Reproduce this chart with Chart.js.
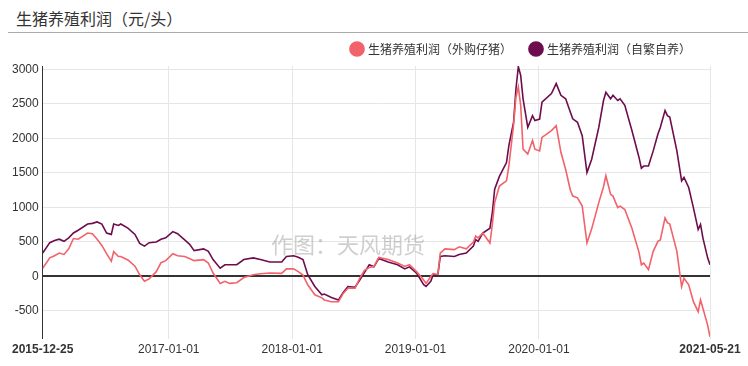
<!DOCTYPE html>
<html>
<head>
<meta charset="utf-8">
<script src="https://cdn.jsdelivr.net/npm/chart.js@4.4.1/dist/chart.umd.min.js"></script>
<style>
  body { margin: 0; background: #fff; font-family: Arial, "Liberation Sans", "Noto Sans CJK SC", sans-serif; }
  #title { position: absolute; left: 8px; right: 0; top: 0; height: 33px; border-bottom: 1px solid #aaa;
           font: 16px "Noto Sans CJK SC", sans-serif; color: #333; line-height: 36px; padding-left: 8px; box-sizing: border-box; }
  #wrap { position: absolute; left: 0; top: 34px; width: 748px; height: 332px; }
  #mark { position: absolute; left: 271px; top: 227px; font: 22px "Noto Sans CJK SC", sans-serif; color: rgba(160,160,160,0.5); pointer-events: none; }
</style>
</head>
<body>
<div id="title">生猪养殖利润（元/头）</div>
<div id="wrap"><canvas id="c"></canvas></div>
<div id="mark">作图：天风期货</div>
<script>
// weekly readings (Fridays), 元/头
const dates = [
  '2015-12-25','2016-01-15','2016-01-29','2016-02-12','2016-02-26','2016-03-11','2016-03-25','2016-04-08','2016-05-06','2016-05-20',
  '2016-06-03','2016-06-17','2016-07-01','2016-07-15','2016-07-22','2016-08-05','2016-08-12','2016-09-02','2016-09-23','2016-10-07',
  '2016-10-21','2016-11-04','2016-11-25','2016-12-09','2016-12-23','2017-01-13','2017-01-27','2017-02-17','2017-03-03','2017-03-17',
  '2017-04-14','2017-04-28','2017-05-12','2017-06-02','2017-06-16','2017-06-30','2017-07-21','2017-08-11','2017-09-08','2017-09-29',
  '2017-10-27','2017-12-01','2017-12-15','2018-01-05','2018-01-19','2018-02-02','2018-02-16','2018-03-09','2018-03-30','2018-04-06',
  '2018-04-27','2018-05-18','2018-06-01','2018-06-15','2018-07-06','2018-07-20','2018-08-03','2018-08-17','2018-08-31','2018-09-14',
  '2018-10-12','2018-11-09','2018-11-30','2018-12-14','2019-01-04','2019-01-25','2019-02-01','2019-02-15','2019-02-22','2019-03-08',
  '2019-03-15','2019-03-29','2019-04-26','2019-05-10','2019-05-31','2019-06-21','2019-06-28','2019-07-05','2019-07-19','2019-08-09',
  '2019-08-16','2019-08-23','2019-09-06','2019-09-27','2019-10-04','2019-10-18','2019-10-25','2019-11-01','2019-11-08','2019-11-15',
  '2019-11-29','2019-12-13','2019-12-20','2020-01-03','2020-01-10','2020-02-07','2020-02-21','2020-03-06','2020-03-20','2020-04-03',
  '2020-04-10','2020-04-24','2020-05-08','2020-05-22','2020-06-05','2020-06-26','2020-07-10','2020-07-17','2020-07-31','2020-08-07',
  '2020-08-21','2020-08-28','2020-09-11','2020-10-02','2020-10-23','2020-10-30','2020-11-06','2020-11-20','2020-12-04','2020-12-18',
  '2020-12-25','2021-01-08','2021-01-15','2021-01-22','2021-02-12','2021-02-26','2021-03-05','2021-03-19','2021-04-02','2021-04-16',
  '2021-04-23','2021-04-30','2021-05-14','2021-05-21'
];
const profitBought = [ // 外购仔猪
  120,270,300,340,320,400,550,540,630,620,
  540,450,330,220,360,290,290,240,150,25,
  -70,-35,70,200,230,330,300,290,260,230,
  245,195,50,-100,-70,-100,-90,-15,25,40,
  50,45,110,110,70,20,-120,-265,-310,-340,
  -365,-365,-245,-170,-170,-25,90,130,145,275,
  245,195,145,170,70,-50,-100,0,40,30,
  340,400,390,430,400,500,585,560,630,485,
  750,1070,1310,1385,1600,2200,2600,2745,2480,1845,
  1775,1970,1845,1820,2015,2115,2185,1800,1550,1250,
  1165,1140,1020,485,690,1070,1300,1460,1190,1165,
  1000,1020,970,700,350,170,195,100,365,510,
  530,850,780,760,365,-145,-25,-120,-365,-510,
  -340,-460,-705,-875
];
const profitSelf = [ // 自繁自养
  340,490,520,540,510,560,630,670,760,770,
  790,760,630,610,760,740,760,700,610,480,
  440,490,500,540,560,650,620,530,470,375,
  400,365,245,120,170,170,170,245,270,245,
  210,210,290,300,280,245,25,-145,-265,-255,
  -305,-340,-230,-145,-155,-50,60,170,140,260,
  210,170,110,140,50,-120,-145,-70,25,25,
  290,300,290,320,340,440,535,510,630,700,
  920,1265,1450,1650,1895,2235,2720,3040,2915,2575,
  2160,2330,2260,2280,2525,2650,2795,2625,2575,2380,
  2285,2235,2040,1505,1700,2160,2550,2670,2575,2625,
  2550,2575,2480,2115,1725,1570,1600,1600,1820,2065,
  2160,2405,2330,2310,1820,1385,1435,1290,995,680,
  755,560,270,170
];
const xTickDates = ['2015-12-25','2017-01-01','2018-01-01','2019-01-01','2020-01-01','2021-05-21'];
const yTicks = [-500,0,500,1000,1500,2000,2500,3000];
const seriesNames = ['生猪养殖利润（外购仔猪）','生猪养殖利润（自繁自养）'];
const seriesColors = ['#f2626a','#6e0d4e'];

const day0 = Date.parse(dates[0]);
const dayOf = s => Math.round((Date.parse(s) - day0) / 86400000);

Chart.defaults.font.family = 'Arial, "Liberation Sans", "Noto Sans CJK SC", sans-serif';
Chart.defaults.font.size = 12;
Chart.defaults.color = '#333';

// a bit more room under the legend
const legendGap = {
  id: 'legendGap',
  afterInit(chart) {
    const fit = chart.legend.fit;
    chart.legend.fit = function () { fit.call(this); this.height += 1; };
  }
};

new Chart(document.getElementById('c'), {
  type: 'line',
  plugins: [legendGap],
  data: {
    datasets: [profitBought, profitSelf].map((vals, i) => ({
      label: seriesNames[i],
      data: vals.map((v, j) => ({ x: dayOf(dates[j]), y: v })),
      borderColor: seriesColors[i],
      backgroundColor: seriesColors[i],
      borderWidth: 1.6,
      pointRadius: 0,
      tension: 0
    }))
  },
  options: {
    responsive: true,
    maintainAspectRatio: false,
    animation: false,
    layout: { padding: { left: 8, right: 38, top: -10, bottom: 5 } },
    plugins: {
      tooltip: { enabled: false },
      legend: {
        position: 'top',
        align: 'end',
        labels: { usePointStyle: true, pointStyle: 'circle', boxWidth: 10, boxHeight: 10, padding: 19,
                  font: { size: 12, family: '"Noto Sans CJK SC", sans-serif' }, color: '#333' }
      }
    },
    scales: {
      x: {
        type: 'linear',
        min: 0,
        max: dayOf(xTickDates[xTickDates.length - 1]),
        afterBuildTicks: s => { s.ticks = xTickDates.map(d => ({ value: dayOf(d) })); },
        ticks: {
          autoSkip: false, maxRotation: 0, padding: 4,
          callback: (v, i) => xTickDates[i],
          font: ctx => ({ size: 12, weight: (ctx.index === 0 || ctx.index === xTickDates.length - 1) ? 'bold' : 'normal' })
        },
        grid: { color: '#e6e6e6', drawTicks: false },
        border: { display: false }
      },
      y: {
        min: -900,
        max: 3050,
        afterBuildTicks: s => { s.ticks = yTicks.map(v => ({ value: v })); },
        ticks: { padding: 4, callback: v => String(v) },
        grid: {
          drawTicks: false,
          color: ctx => ctx.tick && ctx.tick.value === 0 ? '#333' : '#e6e6e6',
          lineWidth: ctx => ctx.tick && ctx.tick.value === 0 ? 2 : 1
        },
        border: { display: true, color: '#333', width: 1 }
      }
    }
  }
});
</script>
</body>
</html>
